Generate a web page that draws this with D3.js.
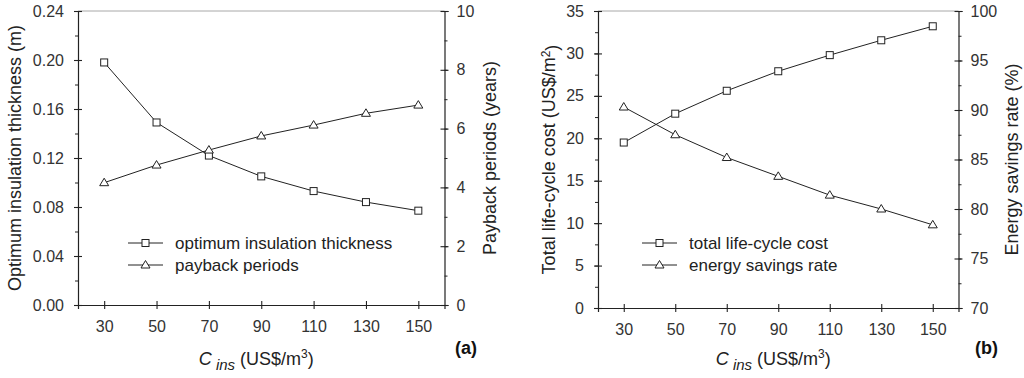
<!DOCTYPE html>
<html>
<head>
<meta charset="utf-8">
<script src="https://cdn.jsdelivr.net/npm/d3@7"></script>
<style>
  body { margin: 0; background: #fff; }
  svg { display: block; font-family: "Liberation Sans", Arial, sans-serif; }
</style>
</head>
<body>
<svg id="chart" width="1024" height="378"></svg>
<script>
// C_ins values (US$/m3)
var cins = [30, 50, 70, 90, 110, 130, 150];
var xTicks = [30, 50, 70, 90, 110, 130, 150];

// panel (a)
var thickness = [0.198, 0.149, 0.122, 0.105, 0.093, 0.084, 0.077];
var payback = [4.16, 4.76, 5.27, 5.75, 6.12, 6.52, 6.80];
var thickTicks = [0, 0.04, 0.08, 0.12, 0.16, 0.20, 0.24];
var paybackTicks = [0, 2, 4, 6, 8, 10];

// panel (b)
var lifeCost = [19.5, 22.9, 25.6, 27.9, 29.8, 31.55, 33.2];
var savings = [90.3, 87.5, 85.2, 83.3, 81.4, 80.0, 78.4];
var costTicks = [0, 5, 10, 15, 20, 25, 30, 35];
var savingsTicks = [70, 75, 80, 85, 90, 95, 100];

var svg = d3.select("#chart");
var ink = "#222";

function squareMark(g, x, y) {
  g.append("rect").attr("x", x - 3.5).attr("y", y - 3.5)
    .attr("width", 7).attr("height", 7)
    .attr("fill", "#fff").attr("stroke", ink).attr("stroke-width", 1);
}
function triMark(g, x, y) {
  g.append("path")
    .attr("d", "M" + x + "," + (y - 4.5) + "L" + (x + 4.5) + "," + (y + 3) + "L" + (x - 4.5) + "," + (y + 3) + "Z")
    .attr("fill", "#fff").attr("stroke", ink).attr("stroke-width", 1);
}

function panel(p) {
  var x = d3.scaleLinear().domain([20, 160]).range([p.left, p.right]);
  var yl = d3.scaleLinear().domain(p.lDomain).range([p.bottom, p.top]);
  var yr = d3.scaleLinear().domain(p.rDomain).range([p.bottom, p.top]);
  var g = svg.append("g");

  // top frame line
  g.append("line").attr("x1", p.left).attr("x2", p.right)
    .attr("y1", p.top).attr("y2", p.top)
    .attr("stroke", "#a8a8a8").attr("stroke-width", 1);

  function styleAxis(sel) {
    sel.select(".domain").attr("stroke", ink).attr("stroke-width", 1.2);
    sel.selectAll(".tick line").attr("stroke", ink).attr("stroke-width", 1.1);
    sel.selectAll(".tick text").attr("fill", "#333").style("font-size", "16px");
  }

  // minor ticks
  var lMinor = d3.range(p.lDomain[0], p.lDomain[1] + 1e-9, p.lMinor);
  var rMinor = d3.range(p.rDomain[0], p.rDomain[1] + 1e-9, p.rMinor);
  g.append("g").attr("transform", "translate(" + p.left + ",0)")
    .call(d3.axisLeft(yl).tickValues(lMinor).tickFormat("").tickSize(3))
    .call(function(s) { s.select(".domain").remove(); s.selectAll("line").attr("stroke", ink); });
  g.append("g").attr("transform", "translate(" + p.right + ",0)")
    .call(d3.axisRight(yr).tickValues(rMinor).tickFormat("").tickSize(3))
    .call(function(s) { s.select(".domain").remove(); s.selectAll("line").attr("stroke", ink); });

  // x axis
  var gx = g.append("g").attr("transform", "translate(0," + p.bottom + ")")
    .call(d3.axisBottom(x).tickValues(xTicks).tickSizeOuter(0).tickSize(4).tickPadding(12));
  styleAxis(gx);
  gx.selectAll(".tick line").attr("y1", -4);

  // left axis
  var gl = g.append("g").attr("transform", "translate(" + p.left + ",0)")
    .call(d3.axisLeft(yl).tickValues(p.lTicks).tickFormat(p.lFormat).tickSizeOuter(0).tickSize(4).tickPadding(10));
  styleAxis(gl);
  gl.selectAll(".tick line").attr("x1", 4);

  // right axis
  var gr = g.append("g").attr("transform", "translate(" + p.right + ",0)")
    .call(d3.axisRight(yr).tickValues(p.rTicks).tickFormat(d3.format("d")).tickSizeOuter(0).tickSize(4).tickPadding(8));
  styleAxis(gr);
  gr.selectAll(".tick line").attr("x1", -4);

  // lines
  var lineL = d3.line().x(function(d, i) { return x(cins[i]); }).y(function(d) { return yl(d); });
  var lineR = d3.line().x(function(d, i) { return x(cins[i]); }).y(function(d) { return yr(d); });
  g.append("path").attr("d", lineL(p.lData)).attr("fill", "none").attr("stroke", ink).attr("stroke-width", 1);
  g.append("path").attr("d", lineR(p.rData)).attr("fill", "none").attr("stroke", ink).attr("stroke-width", 1);
  p.lData.forEach(function(d, i) { squareMark(g, x(cins[i]), yl(d)); });
  p.rData.forEach(function(d, i) { triMark(g, x(cins[i]), yr(d)); });

  // legend
  var lg = g.append("g").attr("transform", "translate(" + p.legX + "," + p.legY + ")");
  [0, 1].forEach(function(k) {
    var yy = k * 22;
    lg.append("line").attr("x1", 0).attr("x2", 35).attr("y1", yy).attr("y2", yy)
      .attr("stroke", ink).attr("stroke-width", 1);
    if (k === 0) squareMark(lg, 17.5, yy); else triMark(lg, 17.5, yy);
    lg.append("text").attr("x", 47).attr("y", yy).attr("dy", "0.35em")
      .attr("fill", ink).style("font-size", "17px").text(p.legend[k]);
  });

  // axis titles
  var lt = g.append("text").attr("transform", "translate(" + p.lTitleX + "," + ((p.top + p.bottom) / 2) + ") rotate(-90)")
    .attr("text-anchor", "middle").attr("dy", "0.35em").attr("fill", ink).style("font-size", "18px");
  lt.append("tspan").text(p.lTitle);
  if (p.lSup) {
    lt.append("tspan").attr("dy", "-0.45em").style("font-size", "12px").text(p.lSup);
    lt.append("tspan").attr("dy", "0.45em").text(")");
  }
  g.append("text").attr("transform", "translate(" + p.rTitleX + "," + ((p.top + p.bottom) / 2) + ") rotate(-90)")
    .attr("text-anchor", "middle").attr("dy", "0.35em").attr("fill", ink).style("font-size", "18px")
    .text(p.rTitle);

  var xt = g.append("text").attr("x", (x(20) + x(160)) / 2 - 5).attr("y", 365)
    .attr("text-anchor", "middle").attr("fill", ink).style("font-size", "18px");
  xt.append("tspan").style("font-style", "italic").text("C");
  xt.append("tspan").attr("dy", "5").style("font-style", "italic").style("font-size", "15px").text(" ins");
  xt.append("tspan").attr("dy", "-5").text(" (US$/m");
  xt.append("tspan").attr("dy", "-7").style("font-size", "12px").text("3");
  xt.append("tspan").attr("dy", "7").text(")");

  g.append("text").attr("x", p.tagX).attr("y", 354).attr("fill", "#111")
    .style("font-size", "18px").style("font-weight", "bold").text(p.tag);
}

panel({
  left: 78, right: 444.5, top: 11, bottom: 305,
  lDomain: [0, 0.24], rDomain: [0, 10], lMinor: 0.02, rMinor: 1,
  lTicks: thickTicks, rTicks: paybackTicks, lFormat: d3.format(".2f"),
  lData: thickness, rData: payback,
  legX: 128, legY: 243, legend: ["optimum insulation thickness", "payback periods"],
  lTitle: "Optimum insulation thickness (m)", lTitleX: 15,
  rTitle: "Payback periods (years)", rTitleX: 490,
  tag: "(a)", tagX: 455
});

panel({
  left: 598, right: 958.5, top: 11, bottom: 308,
  lDomain: [0, 35], rDomain: [70, 100], lMinor: 2.5, rMinor: 2.5,
  lTicks: costTicks, rTicks: savingsTicks, lFormat: d3.format("d"),
  lData: lifeCost, rData: savings,
  legX: 642, legY: 243, legend: ["total life-cycle cost", "energy savings rate"],
  lTitle: "Total life-cycle cost (US$/m", lSup: "2", lTitleX: 549,
  rTitle: "Energy savings rate (%)", rTitleX: 1012,
  tag: "(b)", tagX: 975
});
</script>
</body>
</html>
